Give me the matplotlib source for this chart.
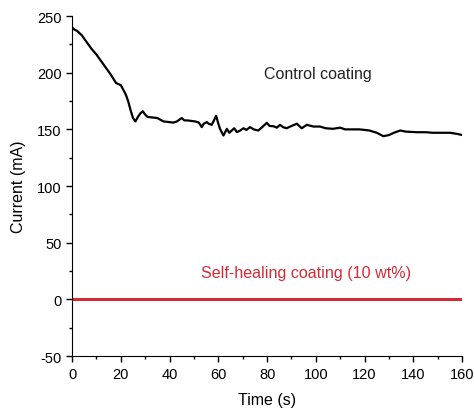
import matplotlib
matplotlib.use("Agg")
import matplotlib.pyplot as plt
from matplotlib.ticker import MultipleLocator

plt.rcParams.update({'font.family': ['Liberation Sans', 'DejaVu Sans']})
plt.rcParams['axes.unicode_minus'] = False

# Control coating (black curve)
time_control = [0, 1, 2, 3, 4, 5, 6, 8, 10, 12, 14, 16, 18, 19, 20, 21, 22, 23, 24, 25,
                26, 27, 28, 29, 30, 31, 33, 35, 37.5, 40, 41.6, 43, 45, 46, 47.7, 50.5,
                52, 53.2, 54, 55.3, 56, 57.3, 58, 59.1, 60, 60.7, 61.5, 62.1, 63.5, 64.5,
                65.5, 66.5, 67.6, 69, 70.3, 71.5, 73, 74.5, 76.4, 78, 79.9, 81, 82.6, 84,
                85.3, 86.5, 88, 90, 92.2, 94.2, 96.3, 99, 101.7, 104, 107, 110, 112, 114,
                118, 122, 125, 127.7, 130, 132, 134.6, 137, 141.4, 145, 148, 152, 155, 158,
                160]
current_control = [240, 238, 237, 235, 233, 230, 227, 221, 216, 210, 204, 198, 191, 190, 189, 185,
                   181, 175, 167, 160, 157, 161, 164, 166, 163, 161, 160.5, 160, 157, 156.4,
                   156, 157, 160, 158, 157.8, 157, 156, 152, 155, 156.4, 155, 154, 157, 162,
                   155, 150.5, 147, 144.6, 150.5, 147, 149, 151, 147.6, 149, 151, 149.5, 152,
                   150, 149, 152, 155.8, 153, 152.8, 151.5, 154, 152, 151, 153, 155, 151, 154,
                   152.5, 152.5, 151, 150.5, 151.5, 150, 150, 150, 149, 147, 144, 145, 147,
                   149, 148, 147.5, 147.5, 147, 147, 147, 146, 145]

# Self-healing coating (red line)
time_healing = [0, 160]
current_healing = [0, 0]

fig = plt.figure(figsize=(4.74, 4.10), dpi=100)
ax = fig.add_axes([0.152, 0.129, 0.823, 0.8295])

ax.plot(time_control, current_control, color='black', lw=1.6)
ax.plot(time_healing, current_healing, color='#d42a36', lw=2.2)

ax.text(101, 199, "Control coating", ha='center', va='center', fontsize=11.5, color='#222222')
ax.text(96, 24, "Self-healing coating (10 wt%)", ha='center', va='center', fontsize=11.6,
        color='#d42a36')

ax.set_xlim(0, 160)
ax.set_ylim(-50, 250)
ax.xaxis.set_major_locator(MultipleLocator(20))
ax.xaxis.set_minor_locator(MultipleLocator(10))
ax.yaxis.set_major_locator(MultipleLocator(50))
ax.yaxis.set_minor_locator(MultipleLocator(25))

ax.spines['top'].set_visible(False)
ax.spines['right'].set_visible(False)
ax.tick_params(which='major', direction='out', length=4, width=1, labelsize=10.5)
ax.tick_params(which='minor', direction='out', length=2.5, width=1)

ax.set_xlabel("Time (s)", fontsize=11.5, labelpad=8)
ax.set_ylabel("Current (mA)", fontsize=11.5, labelpad=8)

fig.savefig("out.png", dpi=100)
